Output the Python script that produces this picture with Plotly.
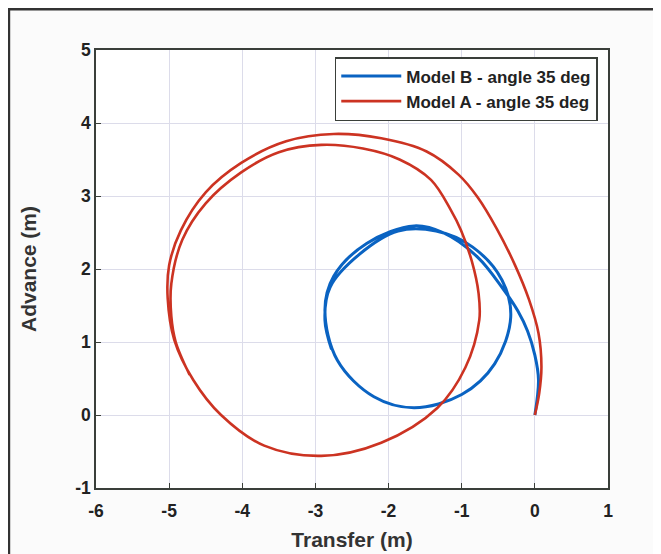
import plotly.graph_objects as go

# Model A (red) trajectory
a_x = [0.0, 0.06, 0.09, 0.05, -0.08, -0.27, -0.52, -0.78, -1.04, -1.48, -2.10, -2.75, -3.4, -4.02, -4.5, -4.84, -5.0, -5.02, -4.93, -4.67, -4.29, -3.7, -2.92, -2.1, -1.33, -0.95, -0.76, -0.77, -0.86, -1.01, -1.15, -1.42, -1.85, -2.35, -2.92, -3.5, -4.02, -4.5, -4.82, -4.97, -4.97, -4.91, -4.72]
a_y = [0.0, 0.3, 0.66, 1.12, 1.58, 2.05, 2.55, 2.98, 3.29, 3.61, 3.79, 3.85, 3.75, 3.45, 3.05, 2.53, 2.05, 1.6, 1.03, 0.48, 0.0, -0.42, -0.56, -0.38, 0.10, 0.65, 1.3, 1.67, 2.1, 2.53, 2.81, 3.22, 3.5, 3.65, 3.70, 3.6, 3.32, 2.9, 2.4, 1.8, 1.35, 1.0, 0.55]

# Model B (blue) trajectory
b_x = [0.0, 0.05, 0.0, -0.1, -0.23, -0.45, -0.78, -1.24, -1.65, -2.3, -2.75, -2.87, -2.7, -2.2, -1.65, -1.0, -0.55, -0.33, -0.45, -0.85, -1.35, -1.87, -2.4, -2.8, -2.87, -2.78]
b_y = [0.0, 0.48, 0.82, 1.15, 1.42, 1.75, 2.16, 2.49, 2.59, 2.35, 1.9, 1.44, 0.75, 0.25, 0.10, 0.28, 0.7, 1.34, 1.85, 2.3, 2.52, 2.52, 2.2, 1.75, 1.3, 0.9]

x_ticks = [-6, -5, -4, -3, -2, -1, 0, 1]
y_ticks = [-1, 0, 1, 2, 3, 4, 5]

BLUE = "#0a63c2"
RED = "#cc3322"

fig = go.Figure()
fig.add_trace(go.Scatter(x=b_x, y=b_y, mode="lines", name="<b>Model B - angle 35 deg</b>",
                         line=dict(color=BLUE, width=3, shape="spline", smoothing=1.0)))
fig.add_trace(go.Scatter(x=a_x, y=a_y, mode="lines", name="<b>Model A - angle 35 deg</b>",
                         line=dict(color=RED, width=2.6, shape="spline", smoothing=1.0)))

axis_common = dict(showgrid=True, gridcolor="#dcdcea", gridwidth=1,
                   showline=True, linecolor="#3a3f3a", linewidth=1.5, mirror=True,
                   ticks="inside", ticklen=5, tickcolor="#3a3f3a",
                   zeroline=False, automargin=False,
                   tickfont=dict(family="Liberation Sans", size=17.5, color="#222"))

fig.update_xaxes(range=[-6, 1], tickvals=x_ticks, ticktext=[f"<b>{v}</b>" for v in x_ticks],
                 ticklabelstandoff=6,
                 title_text="<b>Transfer (m)</b>", title_standoff=13,
                 title_font=dict(family="Liberation Sans", size=21, color="#333"),
                 **axis_common)
fig.update_yaxes(range=[-1, 5], tickvals=y_ticks, ticktext=[f"<b>{v}</b>" for v in y_ticks],
                 title_text="<b>Advance (m)</b>", title_standoff=33,
                 title_font=dict(family="Liberation Sans", size=21, color="#333"),
                 **axis_common)

fig.update_layout(
    width=653, height=546,
    margin=dict(l=88, r=53, t=42, b=66),
    paper_bgcolor="#fbfbfb", plot_bgcolor="white",
    font=dict(family="Liberation Sans"),
    legend=dict(x=0.980, y=0.984, xanchor="right", yanchor="top",
                bgcolor="white", bordercolor="#3a3f3a", borderwidth=1.5,
                font=dict(family="Liberation Sans", size=17, color="#222"),
                tracegroupgap=0, itemwidth=60),
    showlegend=True,
    shapes=[
        dict(type="line", xref="paper", yref="paper", x0=-0.170, x1=-0.170, y0=-0.16, y1=1.1,
             line=dict(color="#333", width=2.5)),
        dict(type="line", xref="paper", yref="paper", x0=-0.172, x1=1.11, y0=1.093, y1=1.093,
             line=dict(color="#333", width=2.5)),
    ],
)

fig.write_html("out.html")
